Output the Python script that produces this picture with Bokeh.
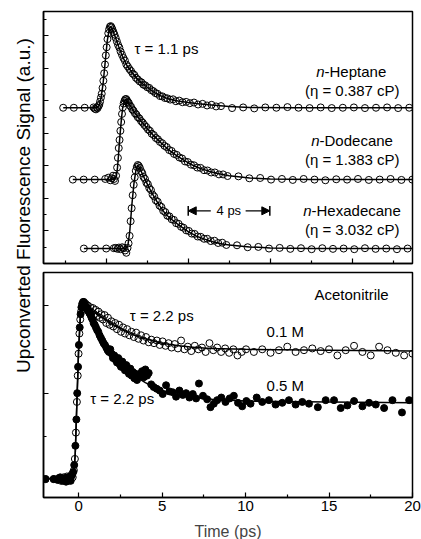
import math
from bokeh.plotting import figure
from bokeh.layouts import row, column
from bokeh.models import FixedTicker, Label, Arrow, NormalHead, Range1d
from bokeh.embed import file_html
from bokeh.resources import INLINE

FONT = "Liberation Sans"

# ---------------- top panel data (time in ps, signal in a.u.) ----------------
hep_t = [-2.10, -1.58, -1.05, -0.62, -0.56, -0.50, -0.46, -0.42, -0.38, -0.34, -0.30, -0.26, -0.22, -0.18,
         -0.14, -0.10, -0.06, -0.02, 0.02, 0.06, 0.10, 0.14, 0.18, 0.22, 0.26, 0.30, 0.35, 0.40, 0.46, 0.52,
         0.58, 0.64, 0.70, 0.77, 0.84, 0.91, 0.98, 1.05, 1.13, 1.21, 1.29, 1.37, 1.45, 1.54, 1.63, 1.72, 1.81,
         1.90, 2.00, 2.10, 2.20, 2.30, 2.40, 2.50, 2.62, 2.74, 2.86, 2.98, 3.12, 3.26, 3.40, 3.56, 3.72, 3.90,
         4.08, 4.28, 4.48, 4.70, 4.92, 5.14, 5.36, 5.60, 6.14, 6.68, 7.22, 7.76, 8.30, 8.84, 9.38, 9.92, 10.46,
         11.00, 11.54, 12.08, 12.62, 13.16, 13.70, 14.24, 14.78]
hep_y = [4.79, 4.79, 4.79, 4.80, 4.76, 4.74, 4.80, 4.78, 4.84, 4.88, 4.98, 5.10, 5.22, 5.40,
         5.62, 5.85, 6.12, 6.40, 6.65, 6.90, 7.08, 7.20, 7.28, 7.30, 7.26, 7.20, 7.12, 7.04, 6.94, 6.83,
         6.72, 6.64, 6.52, 6.42, 6.32, 6.24, 6.12, 6.06, 5.98, 5.92, 5.84, 5.80, 5.71, 5.66, 5.60, 5.57, 5.50,
         5.48, 5.42, 5.40, 5.33, 5.30, 5.24, 5.22, 5.15, 5.14, 5.09, 5.08, 5.04, 5.05, 4.99, 5.01, 4.96, 4.97,
         4.93, 4.95, 4.89, 4.91, 4.86, 4.88, 4.83, 4.84, 4.78, 4.80, 4.77, 4.80, 4.79, 4.81, 4.79, 4.78, 4.80,
         4.78, 4.79, 4.80, 4.78, 4.79, 4.80, 4.78, 4.79]
hep_fit_t = [-2.10, -0.45, -0.35, -0.25, -0.15, -0.05, 0.05, 0.15, 0.22, 0.30, 0.45, 0.60, 0.80, 1.00, 1.25,
             1.50, 1.75, 2.00, 2.30, 2.60, 3.00, 3.50, 4.00, 4.50, 5.00, 6.00, 7.00, 9.00, 14.95]
hep_fit_y = [4.79, 4.79, 4.86, 5.10, 5.55, 6.20, 6.85, 7.22, 7.28, 7.20, 6.95, 6.68, 6.36, 6.10, 5.88,
             5.68, 5.54, 5.42, 5.28, 5.17, 5.07, 5.00, 4.95, 4.91, 4.88, 4.83, 4.80, 4.79, 4.79]

dod_t = [-1.63, -1.10, -0.56, -0.05, 0.10, 0.20, 0.27, 0.33, 0.38, 0.43, 0.48, 0.53, 0.57, 0.61, 0.65, 0.69,
         0.73, 0.77, 0.81, 0.85, 0.89, 0.93, 0.97, 1.01, 1.05, 1.10, 1.15, 1.21, 1.27, 1.33, 1.40, 1.47, 1.54,
         1.62, 1.70, 1.78, 1.86, 1.95, 2.04, 2.13, 2.22, 2.32, 2.42, 2.52, 2.62, 2.73, 2.84, 2.95, 3.07, 3.19,
         3.31, 3.44, 3.57, 3.70, 3.84, 3.98, 4.13, 4.28, 4.44, 4.60, 4.77, 4.94, 5.12, 5.30, 5.50, 5.70, 5.92,
         6.45, 6.98, 7.51, 8.04, 8.57, 9.10, 9.63, 10.16, 10.69, 11.22, 11.75, 12.28, 12.81, 13.34, 13.87,
         14.40, 14.93]
dod_y = [2.58, 2.58, 2.58, 2.60, 2.64, 2.56, 2.62, 2.70, 2.60, 2.54, 2.70, 2.95, 3.25, 3.55, 3.80, 4.08,
         4.35, 4.60, 4.80, 4.92, 5.00, 5.05, 5.06, 5.02, 4.97, 4.94, 4.86, 4.82, 4.74, 4.70, 4.62, 4.58, 4.50,
         4.46, 4.38, 4.33, 4.26, 4.20, 4.12, 4.08, 3.99, 3.95, 3.86, 3.82, 3.74, 3.70, 3.62, 3.58, 3.49, 3.46,
         3.37, 3.34, 3.26, 3.23, 3.14, 3.12, 3.04, 3.02, 2.95, 2.94, 2.87, 2.86, 2.80, 2.80, 2.74, 2.74, 2.69,
         2.68, 2.62, 2.63, 2.58, 2.60, 2.57, 2.60, 2.58, 2.56, 2.59, 2.58, 2.60, 2.57, 2.58, 2.60,
         2.57, 2.58]
dod_fit_t = [-1.63, 0.40, 0.50, 0.55, 0.60, 0.65, 0.70, 0.75, 0.80, 0.90, 0.97, 1.10, 1.30, 1.50, 1.70, 2.00,
             2.30, 2.60, 3.00, 3.40, 3.80, 4.20, 4.60, 5.00, 5.50, 6.00, 7.00, 8.00, 10.00, 14.95]
dod_fit_y = [2.58, 2.58, 2.70, 2.95, 3.35, 3.78, 4.15, 4.50, 4.78, 5.02, 5.05, 4.92, 4.72, 4.55, 4.38, 4.15,
             3.94, 3.75, 3.52, 3.33, 3.17, 3.03, 2.92, 2.84, 2.76, 2.70, 2.63, 2.60, 2.58, 2.58]

hex_t = [-1.09, -0.55, 0.00, 0.37, 0.46, 0.55, 0.62, 0.70, 0.78, 0.85, 0.92, 0.98, 1.04, 1.09, 1.14, 1.19,
         1.24, 1.29, 1.34, 1.39, 1.44, 1.49, 1.54, 1.59, 1.64, 1.70, 1.76, 1.82, 1.89, 1.96, 2.03, 2.10, 2.18,
         2.26, 2.34, 2.42, 2.51, 2.60, 2.69, 2.78, 2.88, 2.98, 3.08, 3.19, 3.30, 3.41, 3.53, 3.65, 3.77, 3.90,
         4.03, 4.17, 4.31, 4.46, 4.61, 4.77, 4.93, 5.10, 5.28, 5.46, 5.66, 5.86, 6.38, 6.90, 7.42, 7.94, 8.46,
         8.98, 9.50, 10.02, 10.54, 11.06, 11.58, 12.10, 12.62, 13.14, 13.66, 14.18, 14.70]
hex_y = [0.46, 0.46, 0.46, 0.47, 0.48, 0.45, 0.49, 0.44, 0.50, 0.47, 0.40, 0.33, 0.48, 0.62, 0.85, 1.30,
         1.70, 2.10, 2.42, 2.65, 2.85, 2.97, 3.03, 3.00, 2.94, 2.84, 2.78, 2.66, 2.60, 2.48, 2.44, 2.32, 2.26,
         2.12, 2.06, 1.94, 1.90, 1.78, 1.74, 1.62, 1.58, 1.47, 1.45, 1.36, 1.34, 1.24, 1.22, 1.13, 1.10, 1.02,
         1.00, 0.92, 0.91, 0.83, 0.82, 0.76, 0.76, 0.69, 0.70, 0.63, 0.64, 0.57, 0.56, 0.50, 0.51, 0.46, 0.48,
         0.45, 0.47, 0.44, 0.47, 0.45, 0.46, 0.44, 0.47, 0.45, 0.46, 0.44, 0.46]
hex_fit_t = [-1.09, 0.95, 1.05, 1.15, 1.25, 1.35, 1.45, 1.54, 1.65, 1.80, 2.00, 2.20, 2.40, 2.60, 2.80, 3.00,
             3.30, 3.60, 4.00, 4.40, 4.80, 5.20, 5.60, 6.00, 7.00, 8.00, 10.00, 14.95]
hex_fit_y = [0.46, 0.46, 0.52, 1.00, 1.80, 2.45, 2.88, 3.02, 2.92, 2.70, 2.45, 2.20, 1.98, 1.78, 1.60, 1.46,
             1.30, 1.16, 0.98, 0.84, 0.75, 0.67, 0.61, 0.57, 0.51, 0.48, 0.46, 0.46]

# ---------------- bottom panel data (acetonitrile) ----------------
m01_t = [-1.98, -1.49, -1.20, -1.05, -0.90, -0.80, -0.70, -0.60, -0.50, -0.42, -0.35, -0.28, -0.22, -0.16,
         -0.10, -0.05, 0.00, 0.05, 0.10, 0.15, 0.20, 0.25, 0.30, 0.36, 0.42, 0.48, 0.55, 0.62, 0.70, 0.78, 0.86,
         0.94, 1.02, 1.10, 1.19, 1.28, 1.37, 1.46, 1.56, 1.66, 1.76, 1.86, 1.97, 2.08, 2.19, 2.30, 2.42, 2.54,
         2.66, 2.78, 2.91, 3.04, 3.17, 3.31, 3.45, 3.59, 3.74, 3.89, 4.04, 4.20, 4.36, 4.52, 4.69, 4.86, 5.03,
         5.21, 5.39, 5.57, 5.76, 5.95, 6.14, 6.34, 6.54, 6.75, 6.96, 7.17, 7.39, 7.61, 7.84, 8.07, 8.30, 8.54,
         8.78, 9.02, 9.27, 9.52, 9.77, 10.03, 10.50, 11.00, 11.50, 12.00, 12.50, 13.00, 13.50, 14.00, 14.50,
         15.00, 15.50, 16.00, 16.50, 17.00, 17.50, 18.00, 18.50, 19.00, 19.50, 20.00]
m01_y = [0.02, 0.02, 0.03, 0.00, 0.04, 0.01, 0.05, 0.00, 0.03, 0.07, 0.04, 0.12, 0.25, 0.55,
         0.90, 1.20, 1.45, 1.68, 1.84, 1.93, 1.98, 2.02, 2.03, 2.00, 2.02, 1.97, 2.00, 1.94, 1.98, 1.92, 1.97,
         1.90, 1.95, 1.88, 1.93, 1.86, 1.90, 1.84, 1.89, 1.80, 1.86, 1.78, 1.82, 1.76, 1.80, 1.73, 1.78, 1.70,
         1.75, 1.68, 1.73, 1.66, 1.70, 1.64, 1.69, 1.62, 1.66, 1.60, 1.64, 1.58, 1.61, 1.57, 1.60, 1.55, 1.59,
         1.54, 1.57, 1.52, 1.56, 1.51, 1.60, 1.50, 1.53, 1.48, 1.54, 1.50, 1.52, 1.47, 1.57, 1.49, 1.52, 1.47,
         1.51, 1.46, 1.50, 1.43, 1.47, 1.50, 1.47, 1.50, 1.46, 1.49, 1.53, 1.47, 1.49, 1.51, 1.48,
         1.50, 1.43, 1.49, 1.54, 1.47, 1.43, 1.53, 1.49, 1.46, 1.43, 1.45]
m01_fit_t = [-2.10, -0.30, -0.20, -0.10, 0.00, 0.10, 0.20, 0.30, 0.50, 1.00, 1.50, 2.00, 2.50, 3.00, 3.50,
             4.00, 5.00, 6.00, 7.00, 8.00, 10.00, 15.00, 20.00]
m01_fit_y = [0.02, 0.05, 0.30, 0.90, 1.48, 1.85, 1.98, 2.02, 1.98, 1.92, 1.85, 1.79, 1.74, 1.69, 1.65,
             1.62, 1.57, 1.54, 1.52, 1.51, 1.50, 1.49, 1.48]

m05_t = [-1.98, -1.49, -1.25, -1.10, -0.95, -0.85, -0.75, -0.65, -0.55, -0.47, -0.40, -0.32, -0.26, -0.19,
         -0.13, -0.08, -0.03, 0.02, 0.07, 0.12, 0.17, 0.22, 0.27, 0.32, 0.37, 0.42, 0.48, 0.54, 0.60, 0.66,
         0.72, 0.78, 0.84, 0.90, 0.97, 1.04, 1.11, 1.18, 1.26, 1.34, 1.42, 1.50, 1.58, 1.66, 1.74, 1.82, 1.90,
         1.98, 2.06, 2.14, 2.22, 2.30, 2.38, 2.46, 2.54, 2.62, 2.70, 2.78, 2.86, 2.94, 3.02, 3.10, 3.18, 3.26,
         3.34, 3.42, 3.50, 3.60, 3.70, 3.80, 3.90, 4.00, 4.10, 4.20, 4.35, 4.50, 4.68, 4.86, 5.04, 5.24, 5.44,
         5.64, 5.84, 6.04, 6.24, 6.44, 6.64, 6.84, 7.04, 7.21, 7.45, 7.70, 7.90, 8.10, 8.30, 8.55, 8.80, 9.05,
         9.30, 9.55, 9.80, 10.05, 10.30, 10.67, 11.00, 11.40, 11.80, 12.20, 12.60, 13.00, 13.40, 13.80, 14.33,
         14.80, 15.30, 15.70, 16.10, 16.50, 17.00, 17.40, 17.80, 18.30, 18.80, 19.37, 19.80]
m05_y = [0.02, 0.02, 0.01, 0.04, 0.00, 0.03, -0.01, 0.04, 0.02, 0.00, 0.06, 0.10, 0.18, 0.40,
         0.70, 1.00, 1.30, 1.55, 1.75, 1.90, 1.98, 2.02, 2.04, 2.04, 2.01, 1.99, 1.96, 1.97, 1.93, 1.91,
         1.89, 1.86, 1.84, 1.80, 1.78, 1.75, 1.72, 1.70, 1.66, 1.63, 1.60, 1.57, 1.55, 1.52, 1.49, 1.47, 1.50,
         1.45, 1.40, 1.43, 1.38, 1.35, 1.40, 1.33, 1.30, 1.36, 1.29, 1.26, 1.32, 1.25, 1.22, 1.28, 1.20, 1.24,
         1.17, 1.22, 1.15, 1.20, 1.22, 1.25, 1.18, 1.27, 1.20, 1.23, 1.10, 1.07, 1.05, 1.03, 0.99, 1.09, 1.02,
         1.01, 0.96, 1.03, 0.98, 1.00, 0.95, 0.99, 0.94, 1.11, 0.97, 0.93, 0.84, 0.88, 0.92, 0.95, 0.90, 0.94,
         0.97, 0.89, 0.85, 0.91, 0.88, 0.95, 0.90, 0.92, 0.87, 0.89, 0.92, 0.87, 0.90, 0.88, 0.84,
         0.92, 0.92, 0.83, 0.86, 0.91, 0.85, 0.89, 0.87, 0.83, 0.92, 0.78, 0.92]
m05_fit_t = [-2.10, -0.30, -0.20, -0.10, 0.00, 0.10, 0.20, 0.30, 0.50, 0.80, 1.00, 1.50, 2.00, 2.50, 3.00,
             3.50, 4.00, 4.50, 5.00, 6.00, 7.00, 8.00, 10.00, 15.00, 20.00]
m05_fit_y = [0.02, 0.05, 0.30, 0.90, 1.48, 1.85, 1.98, 2.02, 1.95, 1.85, 1.78, 1.60, 1.46, 1.34, 1.25,
             1.18, 1.12, 1.07, 1.03, 0.98, 0.95, 0.93, 0.91, 0.90, 0.89]

top_major_x = [0, 4, 8, 12]
top_minor_x = [-2, 2, 6, 10, 14]
top_major_y = [1, 2, 3, 4, 5, 6, 7]
top_minor_y = [0.5, 1.5, 2.5, 3.5, 4.5, 5.5, 6.5, 7.5]
bot_major_x = [0, 5, 10, 15, 20]
bot_minor_x = [-2.5, 2.5, 7.5, 12.5, 17.5]
bot_major_y = [1, 2]
bot_minor_y = [0.5, 1.5]


def hide_labels(ax, ticks):
    ax.major_label_overrides = {t: "" for t in ticks}
    ax.major_label_text_font_size = "1px"
    ax.major_label_standoff = 0


def style_axes(p, xmaj, xmin, ymaj, ymin, xlabels):
    for ax in (p.xaxis[0], p.yaxis[0]):
        ax.axis_line_width = 1.5
        ax.axis_line_color = "black"
        ax.major_tick_in = 5
        ax.major_tick_out = 0
        ax.minor_tick_in = 3
        ax.minor_tick_out = 0
        ax.major_tick_line_width = 1.2
        ax.minor_tick_line_width = 1.2
    p.xaxis[0].ticker = FixedTicker(ticks=xmaj, minor_ticks=xmin)
    p.yaxis[0].ticker = FixedTicker(ticks=ymaj, minor_ticks=ymin)
    hide_labels(p.yaxis[0], ymaj)
    if xlabels:
        p.xaxis[0].major_label_text_font = FONT
        p.xaxis[0].major_label_text_font_size = "15px"
        p.xaxis[0].major_label_text_color = "black"
        p.xaxis[0].major_label_standoff = 3
    else:
        hide_labels(p.xaxis[0], xmaj)
    p.xgrid.visible = False
    p.ygrid.visible = False
    p.outline_line_color = "black"
    p.outline_line_width = 1.5
    p.outline_line_alpha = 1.0


def add_label(p, x, y, text, size="15px", align="left", style="normal", x_offset=0):
    p.add_layout(Label(x=x, y=y, text=text, text_font=FONT, text_font_size=size, text_color="black",
                       text_align=align, text_baseline="middle", text_font_style=style, x_offset=x_offset))


# ---------------- top figure ----------------
top = figure(frame_width=369, frame_height=252, x_range=Range1d(-3.06, 14.94), y_range=Range1d(0, 7.75),
             output_backend="svg", toolbar_location=None, min_border_left=5, min_border_right=9,
             min_border_top=11, min_border_bottom=5, background_fill_color="white")
style_axes(top, top_major_x, top_minor_x, top_major_y, top_minor_y, False)

for ft, fy, dt, dy in ((hep_fit_t, hep_fit_y, hep_t, hep_y), (dod_fit_t, dod_fit_y, dod_t, dod_y),
                       (hex_fit_t, hex_fit_y, hex_t, hex_y)):
    top.line(ft, fy, line_color="black", line_width=1.5)
    top.scatter(dt, dy, marker="circle", size=7, fill_color=None, line_color="black", line_width=1)

add_label(top, 1.38, 6.62, "τ = 1.1 ps")
for yy, name, w, paren in ((5.89, "-Heptane", 72, "(η = 0.387 cP)"), (3.79, "-Dodecane", 82, "(η = 1.383 cP)"),
                           (1.62, "-Hexadecane", 98, "(η = 3.032 cP)")):
    add_label(top, 12.0, yy, "n", style="italic", x_offset=-w / 2)
    add_label(top, 12.0, yy, name, x_offset=-w / 2 + 8.3)
    add_label(top, 12.0, yy - 0.58, paren, align="center")

# 4 ps scale bar
top.segment(x0=[4.0, 7.98], y0=[1.47, 1.47], x1=[4.0, 7.98], y1=[1.77, 1.77], line_color="black", line_width=1.5)
top.add_layout(Arrow(end=NormalHead(size=8, fill_color="black", line_color="black"), x_start=5.1, y_start=1.62,
                     x_end=4.0, y_end=1.62, line_color="black", line_width=1.3))
top.add_layout(Arrow(end=NormalHead(size=8, fill_color="black", line_color="black"), x_start=6.8, y_start=1.62,
                     x_end=7.98, y_end=1.62, line_color="black", line_width=1.3))
add_label(top, 5.98, 1.62, "4 ps", size="13px", align="center")

# ---------------- bottom figure ----------------
bot = figure(frame_width=369, frame_height=225, x_range=Range1d(-2.1, 20.0), y_range=Range1d(-0.19, 2.376),
             output_backend="svg", toolbar_location=None, min_border_left=5, min_border_right=9,
             min_border_top=4, min_border_bottom=42, background_fill_color="white")
style_axes(bot, bot_major_x, bot_minor_x, bot_major_y, bot_minor_y, True)
bot.xaxis.axis_label = "Time (ps)"
bot.xaxis.axis_label_text_font = FONT
bot.xaxis.axis_label_text_font_size = "16px"
bot.xaxis.axis_label_text_font_style = "normal"
bot.xaxis.axis_label_standoff = 9

bot.scatter(m05_t, m05_y, marker="circle", size=7, fill_color="black", line_color="black")
bot.scatter(m01_t, m01_y, marker="circle", size=7, fill_color=None, line_color="black", line_width=1)
bot.line(m01_fit_t, m01_fit_y, line_color="black", line_width=1.5)
bot.line(m05_fit_t, m05_fit_y, line_color="black", line_width=1.5)

add_label(bot, 16.35, 2.13, "Acetonitrile", align="center")
add_label(bot, 3.07, 1.885, "τ = 2.2 ps")
add_label(bot, 11.26, 1.70, "0.1 M")
add_label(bot, 11.26, 1.09, "0.5 M")
add_label(bot, 0.70, 0.94, "τ = 2.2 ps")

# ---------------- shared y-axis label ----------------
lab = figure(width=38, height=539, x_range=Range1d(0, 38), y_range=Range1d(0, 539), x_axis_type=None,
             y_axis_type=None, min_border=0, outline_line_color=None, toolbar_location=None,
             output_backend="svg")
lab.xgrid.visible = False
lab.ygrid.visible = False
lab.add_layout(Label(x=23, y=539 - 205, text="Upconverted Fluorescence Signal (a.u.)", text_font=FONT,
                     text_font_size="19px", text_color="black", angle=math.pi / 2, text_align="center",
                     text_baseline="middle"))

layout = row(lab, column(top, bot, spacing=0), spacing=0)
open("out.html", "w").write(file_html(layout, INLINE))
